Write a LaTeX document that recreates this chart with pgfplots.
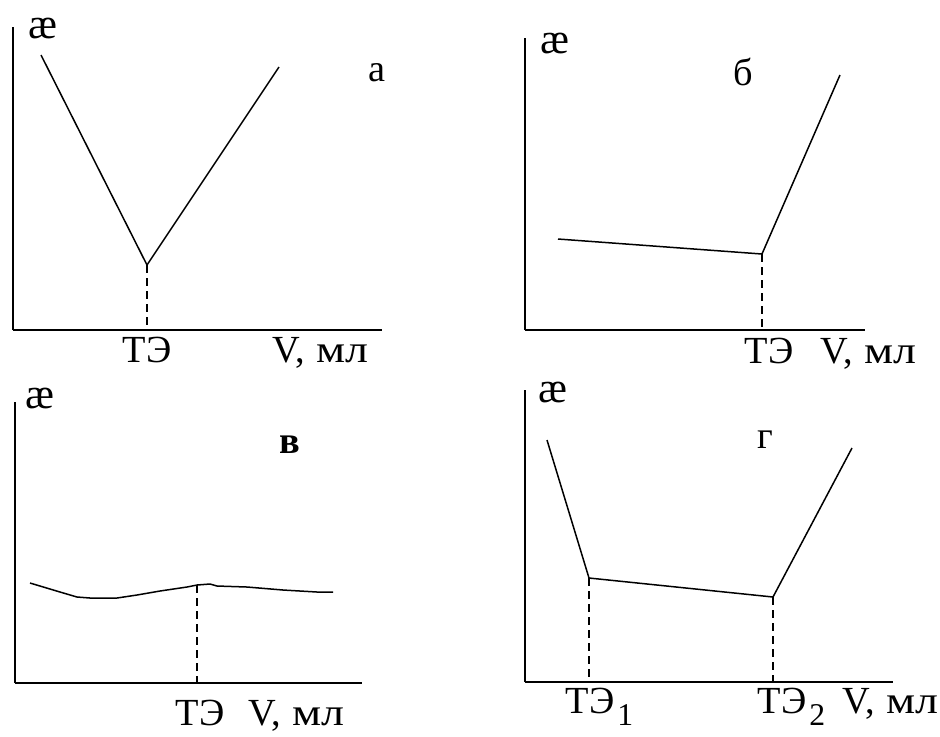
\documentclass[border=0pt]{standalone}
\usepackage{fontspec}
\setmainfont{Liberation Serif}
\usepackage{graphicx}
\usepackage{pgfplots}
\pgfplotsset{compat=1.18}

% one reference pixel = 0.3pt; data are in reference pixels from each axis origin
\pgfplotsset{
  panel/.style={
    scale only axis, clip=false,
    axis lines=left, axis line style={-, line width=0.65pt},
    ticks=none, anchor=south west,
  },
  curve/.style={black, line width=0.45pt},
  te/.style={black, line width=0.5pt, dash pattern=on 2.4pt off 1.5pt},
}
\tikzset{
  bl/.style={font=\lbl, inner sep=0pt, anchor=base},
  bw/.style={font=\lbl, inner sep=0pt, anchor=base west},
  ae/.style={font=\fontsize{13}{14}\selectfont},
}
\newcommand\lbl{\fontsize{11.5}{13}\selectfont}
\newcommand\vml{V,\hspace{0.3em}\scalebox{1.2}[1]{мл}}
\newcommand\te[1]{ТЭ\hspace{0.08em}\raisebox{-0.32em}{\fontsize{9.5}{10}\selectfont #1}}

\begin{document}
\begin{tikzpicture}
\path[use as bounding box] (0,0) rectangle (282pt,-220.8pt);

% panel a
\begin{axis}[panel, at={(3.9pt,-99pt)}, width=110.7pt, height=90.9pt,
  xmin=0, xmax=369, ymin=0, ymax=303]
\addplot[curve] coordinates {(28,275) (134,65) (266,263)};
\addplot[te] coordinates {(134,65) (134,0)};
\node[ae] at (axis cs:30,302) {æ};
\node[font=\lbl] at (axis cs:364,257) {а};
\node[bl] at (axis cs:134,-32) {ТЭ};
\node[bw] at (axis cs:259,-32) {\vml};
\end{axis}

% panel b
\begin{axis}[panel, at={(157.5pt,-99pt)}, width=102pt, height=87.6pt,
  xmin=0, xmax=340, ymin=0, ymax=292]
\addplot[curve] coordinates {(33,91) (237,76) (315,255)};
\addplot[te] coordinates {(237,76) (237,0)};
\node[ae] at (axis cs:30,287) {æ};
\node[font=\lbl] at (axis cs:218,258) {б};
\node[bl] at (axis cs:244,-33) {ТЭ};
\node[bw] at (axis cs:295,-33) {\vml};
\end{axis}

% panel v
\begin{axis}[panel, at={(4.5pt,-204.9pt)}, width=104.1pt, height=84.3pt,
  xmin=0, xmax=347, ymin=0, ymax=281]
\addplot[curve] coordinates {
  (15,100) (45,91) (62,86) (75,85) (102,85) (122,88) (145,92)
  (172,96) (182,98) (195,99) (202,97) (232,96) (268,93) (302,91) (318,91)};
\addplot[te] coordinates {(182,98) (182,0)};
\node[ae] at (axis cs:25,285) {æ};
\node[font=\lbl\bfseries] at (axis cs:275,238) {в};
\node[bl] at (axis cs:185,-42) {ТЭ};
\node[bw] at (axis cs:233,-42) {\vml};
\end{axis}

% panel g
\begin{axis}[panel, at={(157.5pt,-204.6pt)}, width=110.4pt, height=87.6pt,
  xmin=0, xmax=368, ymin=0, ymax=292]
\addplot[curve] coordinates {(22,242) (64,104) (248,85) (327,234)};
\addplot[te] coordinates {(64,104) (64,0)};
\addplot[te] coordinates {(248,85) (248,0)};
\node[ae] at (axis cs:28,290) {æ};
\node[font=\lbl] at (axis cs:240,242) {г};
\node[bw] at (axis cs:40,-31) {\te{1}};
\node[bw] at (axis cs:232,-31) {\te{2}};
\node[bw] at (axis cs:317,-31) {\vml};
\end{axis}
\end{tikzpicture}
\end{document}
